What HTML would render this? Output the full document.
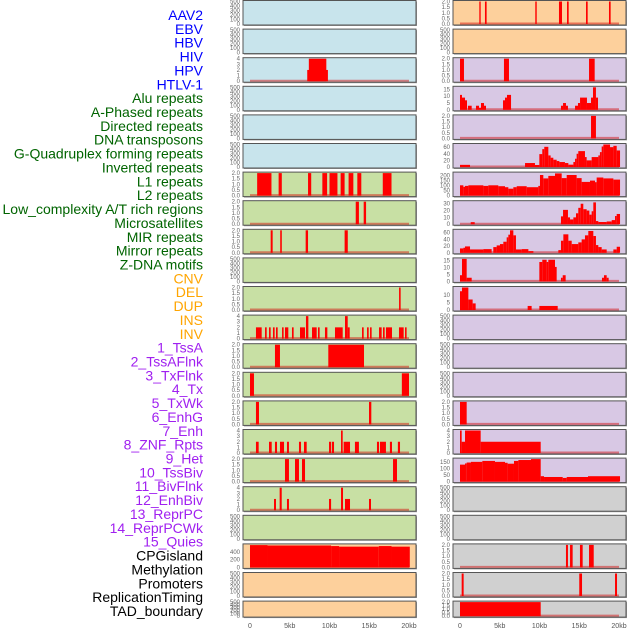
<!DOCTYPE html>
<html><head><meta charset="utf-8"><style>
html,body{margin:0;padding:0;background:#fff;}
svg{display:block;font-family:"Liberation Sans",sans-serif;}
</style></head><body>
<svg id="chart" width="630" height="630" xmlns="http://www.w3.org/2000/svg"></svg>
<script>
const trackLabels = ["AAV2","EBV","HBV","HIV","HPV","HTLV-1","Alu repeats","A-Phased repeats","Directed repeats","DNA transposons","G-Quadruplex forming repeats","Inverted repeats","L1 repeats","L2 repeats","Low_complexity A/T rich regions","Microsatellites","MIR repeats","Mirror repeats","Z-DNA motifs","CNV","DEL","DUP","INS","INV","1_TssA","2_TssAFlnk","3_TxFlnk","4_Tx","5_TxWk","6_EnhG","7_Enh","8_ZNF_Rpts","9_Het","10_TssBiv","11_BivFlnk","12_EnhBiv","13_ReprPC","14_ReprPCWk","15_Quies","CPGisland","Methylation","Promoters","ReplicationTiming","TAD_boundary"];
const xTickLabels = ["0","5kb","10kb","15kb","20kb"];
const xTickValues = [0,5,10,15,20];
const leftYMax = [500,500,4,500,500,500,2,2,2,500,2,4,2,2,2,4,2,4,500,580,500,500];
const rightYMax = [2,500,2,16.6,2,68,225,33,67,16,15,500,500,500,2,4,171,500,500,2,2,2];
const leftTicks = [[0,100,200,300,400,500],[0,100,200,300,400,500],[0,1,2,3,4],[0,100,200,300,400,500],[0,100,200,300,400,500],[0,100,200,300,400,500],[0,0.5,1,1.5,2],[0,0.5,1,1.5,2],[0,0.5,1,1.5,2],[0,100,200,300,400,500],[0,0.5,1,1.5,2],[0,1,2,3,4],[0,0.5,1,1.5,2],[0,0.5,1,1.5,2],[0,0.5,1,1.5,2],[0,1,2,3,4],[0,0.5,1,1.5,2],[0,1,2,3,4],[0,100,200,300,400,500],[0,200,400],[0,100,200,300,400,500],[0,100,200,300,400,500]];
const rightTicks = [[0,0.5,1,1.5,2],[0,100,200,300,400,500],[0,0.5,1,1.5,2],[0,5,10,15],[0,0.5,1,1.5,2],[0,20,40,60],[0,50,100,150,200],[0,10,20,30],[0,20,40,60],[0,5,10,15],[0,5,10],[0,100,200,300,400,500],[0,100,200,300,400,500],[0,100,200,300,400,500],[0,0.5,1,1.5,2],[0,1,2,3,4],[0,50,100,150],[0,100,200,300,400,500],[0,100,200,300,400,500],[0,0.5,1,1.5,2],[0,0.5,1,1.5,2],[0,0.5,1,1.5,2]];
// segments [startKb, endKb, value]
const leftData = [
 null,null,
 [[7.2,9.8,2],[7.4,9.6,4]],
 null,null,null,
 [[0.9,2.7,2],[3.6,4.0,2],[7.3,7.7,2],[9.1,9.7,2],[10.0,11.0,2],[11.4,11.9,2],[12.4,13.0,2],[13.5,14.0,2],[16.7,17.8,2]],
 [[13.3,13.7,2],[14.3,14.6,2]],
 [[2.6,2.85,2],[3.8,4.0,2],[7.0,7.3,2],[11.9,12.3,2]],
 null,
 [[18.75,18.95,2]],
 [[0.75,1.47,2],[1.89,2.1,2],[2.39,2.6,2],[2.89,3.1,2],[3.27,3.48,2],[4.03,4.23,2],[4.4,4.82,2],[5.28,5.49,2],[6.29,6.92,2],[7.04,7.34,4],[7.8,8.39,2],[8.55,8.76,2],[9.43,9.73,2],[10.69,11.66,2],[11.95,12.29,4],[12.29,12.54,2],[14.09,14.3,2],[14.72,14.93,2],[15.1,15.3,2],[16.23,16.56,2],[16.73,16.94,2],[17.1,17.86,2],[18.74,19.33,2],[19.5,19.7,2]],
 [[3.14,3.77,2],[9.85,14.34,2]],
 [[0,0.5,2],[19.1,20.0,2]],
 [[0.75,1.13,2],[14.97,15.26,2]],
 [[0.75,1.09,2],[2.39,2.73,2],[3.14,3.4,2],[3.77,4.28,2],[4.65,4.9,2],[6.16,6.42,2],[6.79,7.13,2],[9.94,10.2,2],[10.3,10.57,2],[11.45,11.66,4],[11.78,12.58,2],[13.2,13.7,2],[15.97,16.23,2],[16.35,17.1,2],[17.6,17.86,2],[18.6,18.87,2]],
 [[4.4,4.9,2],[5.66,6.16,2],[6.54,6.92,2],[17.99,18.49,2]],
 [[3.02,3.27,2],[3.73,3.99,4],[4.65,4.9,2],[9.94,10.2,2],[11.45,11.7,4],[11.95,12.58,2],[14.97,15.22,2]],
 null,
 [[0,2.2,575],[2.2,10.2,565],[10.2,11.2,550],[11.2,16.2,535],[16.2,17.8,550],[17.8,20.1,535]],
 null,null
];
// steps [startKb, value]; last entry is end
const rG = [[0,6.5],[1.26,0],[8.18,12],[9.43,6],[9.98,39],[10.35,54],[10.6,61],[11.11,35],[11.4,28],[11.74,22],[12.16,18],[12.5,15],[13.2,12],[13.63,7],[14.26,15],[14.47,25],[14.67,40],[14.88,48],[15.72,30],[15.93,20],[16.56,30],[17.4,35],[17.6,45],[17.82,62],[18.03,68],[18.87,60],[19.29,64],[19.71,50],[20.13,0]];
const rL1 = [[0,103],[0.42,88],[0.63,97],[1.05,103],[2.94,97],[3.56,103],[4.82,94],[5.66,84],[6.08,69],[6.71,84],[7.13,94],[8.39,84],[9.85,97],[10.06,206],[10.48,172],[11.11,197],[11.95,222],[12.79,175],[13.42,206],[14.67,175],[15.3,137],[16.35,150],[16.98,134],[17.19,181],[18.03,172],[19.29,160],[20.13,0]];
const rMS = [[1.35,3],[1.85,0],[12.7,11.5],[12.96,21],[13.58,10],[13.84,7],[14.26,10],[14.59,16],[14.88,24],[15.18,30],[15.51,22],[15.93,20],[16.27,14],[16.56,19],[16.77,32],[17.1,4.6],[17.4,3.2],[18.45,4],[19.08,6],[19.5,12],[19.71,15],[20.13,0]];
const rMIR = [[0,13],[0.42,15],[0.63,19],[1.26,10],[2.94,11],[3.98,0],[4.19,17],[4.61,22],[5.03,26],[5.45,33],[5.87,46],[6.08,54],[6.29,67],[6.71,52],[7.04,10],[7.76,11],[8.6,5],[9.23,0],[12.37,8],[12.7,36],[13.0,55],[13.63,36],[14.05,26],[14.88,31],[15.3,40],[15.72,52],[16.14,65],[16.77,50],[17.1,23],[17.4,17],[17.82,10],[18.45,0],[19.29,10],[19.71,18],[20.13,0]];
const rightData = [
 [[2.43,2.6,2],[3.14,3.35,2],[9.47,9.65,2],[12.45,12.83,2],[13.46,13.67,2],[15.85,16.06,2],[18.74,18.95,2]],
 null,
 [[0,0.5,2],[5.53,6.16,2],[16.23,16.94,2]],
 [[0,0.25,11],[0.25,0.63,9],[0.63,0.88,7],[1.0,1.47,3],[2.01,2.39,3],[2.39,2.64,1.5],[2.64,3.02,5],[3.02,3.27,3],[5.41,5.66,7],[5.66,5.91,9],[5.91,6.42,11],[12.7,12.96,3],[12.96,13.33,5],[13.33,13.58,3],[14.47,14.84,3],[14.84,15.1,5],[15.1,15.97,9],[15.97,16.48,5],[16.48,16.73,9],[16.73,17.1,16.6],[17.1,17.36,9]],
 [[16.48,17.1,2]],
 rG, rL1, rMS, rMIR,
 [[0,0.25,4.4],[0.25,0.84,16],[0.84,1.47,2.6],[9.98,10.35,13.8],[10.35,10.9,15.4],[10.9,11.11,13.8],[11.11,11.95,15.4],[11.95,12.16,10.3],[12.7,12.92,2.6],[12.92,13.29,4.4],[17.86,18.11,2.6],[18.11,18.45,4.4],[18.45,18.7,2.6]],
 [[0,0.25,12.5],[0.25,1.05,15],[1.05,1.59,7],[1.59,1.97,4.4],[8.51,9.01,2.7],[9.98,12.29,2.7]],
 null,null,null,
 [[0,0.84,2]],
 [[0,0.21,4],[0.21,0.63,2],[0.63,2.6,4],[2.6,10.15,2]],
 [[0,0.63,129],[0.63,0.84,138],[0.84,1.38,145],[1.38,2.81,150],[2.81,4.4,157],[4.4,5.66,150],[5.66,5.99,143],[5.99,6.79,136],[6.79,7.34,157],[7.34,8.93,164],[8.93,10.15,171],[10.15,10.57,41],[10.57,12.92,35],[12.92,13.42,28],[13.42,16.1,35],[16.1,20.13,41]],
 null,null,
 [[13.33,13.58,2],[13.84,14.17,2],[15.09,15.43,2],[16.23,16.82,2]],
 [[0.21,0.46,2],[15.0,15.35,2],[19.5,19.75,2]],
 [[0,10.15,2]]
];
const leftBg = ["#c8e4ec","#c8e4ec","#c8e4ec","#c8e4ec","#c8e4ec","#c8e4ec","#c8e0a4","#c8e0a4","#c8e0a4","#c8e0a4","#c8e0a4","#c8e0a4","#c8e0a4","#c8e0a4","#c8e0a4","#c8e0a4","#c8e0a4","#c8e0a4","#c8e0a4","#fdd09c","#fdd09c","#fdd09c"];
const rightBg = ["#fdd09c","#fdd09c","#d8c8e4","#d8c8e4","#d8c8e4","#d8c8e4","#d8c8e4","#d8c8e4","#d8c8e4","#d8c8e4","#d8c8e4","#d8c8e4","#d8c8e4","#d8c8e4","#d8c8e4","#d8c8e4","#d8c8e4","#d0d0d0","#d0d0d0","#d0d0d0","#d0d0d0","#d0d0d0"];

const NS="http://www.w3.org/2000/svg";
const svg=document.getElementById('chart');
function mk(tag,attrs,parent){const e=document.createElementNS(NS,tag);for(const k in attrs)e.setAttribute(k,attrs[k]);(parent||svg).appendChild(e);return e;}
function labelColor(i){if(i<6)return "#0000ff";if(i<19)return "#006400";if(i<24)return "#ffa500";if(i<39)return "#a020f0";return "#000";}

// labels
trackLabels.forEach((t,i)=>{
  const e=mk('text',{x:203,y:20+i*13.86,'text-anchor':'end','font-size':14,fill:labelColor(i)});
  e.textContent=t;
  
  
});

function drawColumn(col,x0,dataArr,ymaxArr,ticksArr,bgArr){
  const pl=x0-7, pw=173;
  const xs=kb=>x0+kb*7.95;
  for(let r=0;r<22;r++){
    const top=0.5+28.6*r, h=(r===21)?16:24.5, bot=top+h;
    const g=mk('g',{});
    
    
    mk('rect',{x:pl+1,y:top+1,width:pw,height:h,fill:'#999'},g);
    const bg=mk('rect',{x:pl,y:top,width:pw,height:h,fill:bgArr[r],stroke:'#555','stroke-width':1},g);
    
    
    const ymax=ymaxArr[r];
    const ys=v=>bot-1-v/ymax*(h-2);
    ticksArr[r].forEach(tv=>{
      const t=mk('text',{x:pl-3,y:ys(tv)+2,'text-anchor':'end','font-size':6,fill:'#666'},g);
      t.textContent=String(tv%1===0&&ymax===2?tv.toFixed(1):(ymax===2?tv.toFixed(1):tv));
      
      
    });
    let d=dataArr[r];
    if(d){
      let segs=d;
      if(d.length&&d[0].length===2){segs=[];for(let i=0;i<d.length-1;i++){if(d[i][1]>0)segs.push([d[i][0],d[i+1][0],d[i][1]]);}}
      const bl=mk('line',{x1:xs(0),x2:xs(20),y1:bot-1.5,y2:bot-1.5,stroke:'rgba(210,0,0,0.45)','stroke-width':2},g);
      
      
      segs.forEach(s=>{
        const b=mk('rect',{x:xs(s[0]),y:ys(s[2]),width:Math.max(1.2,xs(s[1])-xs(s[0])),height:bot-1-ys(s[2]),fill:'#ff0000'},g);
        
        
      });
    }
  }
  xTickValues.forEach((v,i)=>{
    const t=mk('text',{x:xs(v),y:628,'text-anchor':'middle','font-size':7,fill:'#555'});
    t.textContent=xTickLabels[i];
    
    
  });
}
drawColumn('left',250,leftData,leftYMax,leftTicks,leftBg);
drawColumn('right',460,rightData,rightYMax,rightTicks,rightBg);
</script>
</body></html>
